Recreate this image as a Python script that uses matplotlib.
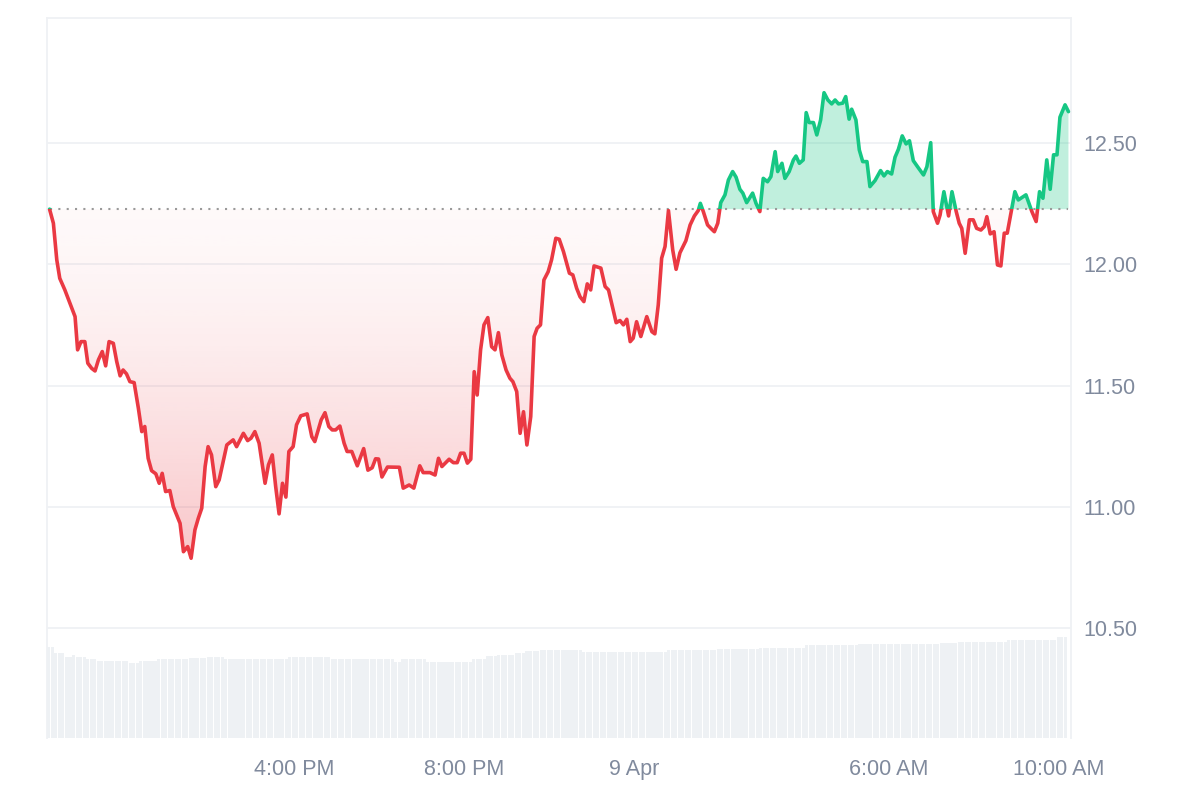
import numpy as np
import matplotlib
matplotlib.use("Agg")
import matplotlib.pyplot as plt
from matplotlib.patches import Rectangle
from matplotlib.path import Path

# ---------------- data (hours relative to 9 Apr 00:00) ----------------
hours = [
    -13.75, -13.66, -13.58, -13.51, -13.39, -13.27, -13.15, -13.09, -13.01, -12.92,
    -12.85, -12.76, -12.68, -12.60, -12.51, -12.43, -12.35, -12.25, -12.17, -12.09,
    -12.02, -11.94, -11.86, -11.76, -11.66, -11.58, -11.51, -11.43, -11.35, -11.25,
    -11.17, -11.10, -11.02, -10.92, -10.84, -10.68, -10.60, -10.50, -10.42, -10.33,
    -10.25, -10.17, -10.09, -10.02, -9.94, -9.84, -9.76,
    -9.58, -9.43, -9.35, -9.19, -9.09, -9.01, -8.92, -8.82, -8.68, -8.60,
    -8.51, -8.43, -8.35, -8.27, -8.19, -8.12, -8.02, -7.94, -7.84, -7.69,
    -7.58, -7.51, -7.36, -7.27, -7.18, -7.10, -7.02, -6.92, -6.82, -6.75,
    -6.64, -6.51, -6.36, -6.26, -6.16, -6.08, -6.01, -5.93, -5.80, -5.52,
    -5.43, -5.29, -5.18, -5.04, -4.96, -4.80, -4.68, -4.60, -4.52, -4.35,
    -4.25, -4.16, -4.08, -4.00, -3.92, -3.84, -3.76, -3.69, -3.61, -3.53,
    -3.44, -3.35, -3.27, -3.19, -3.11, -3.01, -2.92, -2.85, -2.76, -2.68,
    -2.60, -2.52, -2.43, -2.35, -2.28, -2.20, -2.12, -2.02, -1.94, -1.84,
    -1.76, -1.66, -1.52, -1.44, -1.35, -1.27, -1.18, -1.10, -1.02, -0.94,
    -0.78, -0.68, -0.60, -0.42, -0.33, -0.25, -0.17, -0.09, -0.02, 0.06,
    0.16, 0.30, 0.42, 0.49, 0.57, 0.65, 0.73, 0.81, 0.91, 0.99,
    1.08, 1.22, 1.32, 1.42, 1.51, 1.56, 1.63, 1.73, 1.83, 1.89,
    1.97, 2.04, 2.14, 2.22, 2.32, 2.40, 2.49, 2.56, 2.65, 2.79,
    2.87, 2.96, 3.04, 3.14, 3.22, 3.32, 3.38, 3.48, 3.55, 3.65,
    3.75, 3.81, 3.89, 3.98, 4.05, 4.12, 4.22, 4.30, 4.39, 4.47,
    4.56, 4.65, 4.73, 4.81, 4.91, 4.98, 5.06, 5.12, 5.22, 5.30,
    5.38, 5.48, 5.55, 5.67, 5.80, 5.88, 5.96, 6.06, 6.14, 6.22,
    6.31, 6.40, 6.48, 6.57, 6.67, 6.81, 6.89, 6.98, 7.04, 7.14,
    7.20, 7.29, 7.40, 7.48, 7.58, 7.65, 7.71, 7.79, 7.89, 7.98,
    8.06, 8.16, 8.24, 8.30, 8.38, 8.47, 8.55, 8.63, 8.71, 8.78,
    8.89, 8.96, 9.04, 9.22, 9.36, 9.46, 9.54, 9.62, 9.71, 9.79,
    9.87, 9.95, 10.02, 10.14, 10.22,
]

prices = [
    12.227, 12.169, 12.018, 11.942, 11.894, 11.839, 11.784, 11.647, 11.681, 11.681,
    11.592, 11.571, 11.560, 11.606, 11.640, 11.581, 11.681, 11.674, 11.599, 11.540,
    11.564, 11.548, 11.516, 11.512, 11.406, 11.310, 11.331, 11.200, 11.149, 11.136,
    11.097, 11.138, 11.063, 11.067, 11.001, 10.932, 10.815, 10.836, 10.788, 10.905,
    10.953, 10.994, 11.166, 11.248, 11.214, 11.083, 11.111,
    11.255, 11.276, 11.248, 11.303, 11.273, 11.283, 11.310, 11.262, 11.097, 11.173,
    11.214, 11.083, 10.971, 11.097, 11.040, 11.228, 11.248, 11.338, 11.375, 11.383,
    11.289, 11.269, 11.358, 11.388, 11.331, 11.317, 11.317, 11.333, 11.262, 11.228,
    11.228, 11.169, 11.240, 11.151, 11.161, 11.198, 11.197, 11.123, 11.164, 11.163,
    11.077, 11.090, 11.077, 11.169, 11.141, 11.141, 11.131, 11.200, 11.166, 11.196,
    11.182, 11.182, 11.221, 11.221, 11.180, 11.196, 11.557, 11.461, 11.647, 11.750,
    11.780, 11.660, 11.647, 11.718, 11.626, 11.564, 11.530, 11.516, 11.475, 11.303,
    11.392, 11.255, 11.372, 11.702, 11.736, 11.750, 11.935, 11.969, 12.018, 12.107,
    12.103, 12.052, 11.963, 11.956, 11.901, 11.866, 11.846, 11.919, 11.894, 11.993,
    11.984, 11.908, 11.894, 11.759, 11.768, 11.750, 11.773, 11.681, 11.695, 11.763,
    11.702, 11.784, 11.722, 11.713, 11.832, 12.025, 12.073, 12.221, 12.059, 11.979,
    12.047, 12.097, 12.162, 12.199, 12.221, 12.251, 12.217, 12.162, 12.144, 12.134,
    12.169, 12.254, 12.286, 12.347, 12.382, 12.359, 12.309, 12.293, 12.254, 12.293,
    12.251, 12.217, 12.354, 12.340, 12.361, 12.464, 12.382, 12.416, 12.354, 12.382,
    12.430, 12.446, 12.416, 12.430, 12.625, 12.584, 12.584, 12.533, 12.595, 12.707,
    12.677, 12.661, 12.677, 12.661, 12.664, 12.691, 12.598, 12.639, 12.595, 12.471,
    12.423, 12.423, 12.320, 12.345, 12.386, 12.364, 12.382, 12.372, 12.441, 12.474,
    12.529, 12.496, 12.509, 12.427, 12.402, 12.368, 12.402, 12.501, 12.217, 12.169,
    12.203, 12.299, 12.199, 12.299, 12.217, 12.169, 12.148, 12.045, 12.183, 12.183,
    12.148, 12.141, 12.155, 12.196, 12.125, 12.134, 11.997, 11.993, 12.128, 12.128,
    12.231, 12.299, 12.265, 12.286, 12.217, 12.176, 12.299, 12.272, 12.430, 12.309,
    12.451, 12.451, 12.606, 12.657, 12.629,
]

# 5-minute volume bars (arbitrary units), first bar starts at vol_start
vol_start = -13.81
vol_step_h = 5 / 60
volume = [
    91, 91, 85, 85, 85, 81, 81, 83, 81, 81,
    81, 79, 79, 79, 77, 77, 77, 77, 77, 77,
    77, 77, 77, 75, 75, 75, 77, 77, 77, 77,
    77, 79, 79, 79, 79, 79, 79, 79, 79, 79,
    80, 80, 80, 80, 80, 81, 81, 81, 81, 81,
    79, 79, 79, 79, 79, 79, 79, 79, 79, 79,
    79, 79, 79, 79, 79, 79, 79, 79, 81, 81,
    81, 81, 81, 81, 81, 81, 81, 81, 81, 81,
    79, 79, 79, 79, 79, 79, 79, 79, 79, 79,
    79, 79, 79, 79, 79, 79, 79, 79, 76, 76,
    79, 79, 79, 79, 79, 79, 79, 76, 76, 76,
    76, 76, 76, 76, 76, 76, 76, 76, 76, 76,
    79, 79, 79, 79, 82, 82, 82, 83, 83, 83,
    83, 83, 85, 85, 85, 87, 87, 87, 87, 88,
    88, 88, 88, 88, 88, 88, 88, 88, 88, 88,
    88, 86, 86, 86, 86, 86, 86, 86, 86, 86,
    86, 86, 86, 86, 86, 86, 86, 86, 86, 86,
    86, 86, 86, 86, 86, 88, 88, 88, 88, 88,
    88, 88, 88, 88, 88, 88, 88, 88, 88, 89,
    89, 89, 89, 89, 89, 89, 89, 89, 89, 89,
    89, 90, 90, 90, 90, 90, 90, 90, 90, 90,
    90, 90, 90, 90, 93, 93, 93, 93, 93, 93,
    93, 93, 93, 93, 93, 93, 93, 93, 93, 94,
    94, 94, 94, 94, 94, 94, 94, 94, 94, 94,
    94, 94, 94, 94, 94, 94, 94, 94, 94, 94,
    94, 94, 95, 95, 95, 95, 95, 96, 96, 96,
    96, 96, 96, 96, 96, 96, 96, 96, 96, 96,
    96, 98, 98, 98, 98, 98, 98, 98, 98, 98,
    98, 98, 98, 98, 98, 101, 101, 101,
]

y_ticks = [10.5, 11.0, 11.5, 12.0, 12.5]
x_ticks = [-8, -4, 0, 6, 10]
x_labels = ["4:00 PM", "8:00 PM", "9 Apr", "6:00 AM", "10:00 AM"]

# ---------------- style ----------------
RED = "#ea3943"
GREEN = "#16c784"
LABEL = "#808a9d"
GRID = "#eff1f4"
plt.rcParams['font.family'] = ['Liberation Sans', 'DejaVu Sans']

h = np.array(hours)
p = np.array(prices)
base = p[0]
xlim = (-13.81, 10.28)
ylim = (10.047, 13.015)

fig = plt.figure(figsize=(12, 8), dpi=100)
rect = [47 / 1200, 62 / 800, 1024 / 1200, 720 / 800]

# volume axes (behind)
axv = fig.add_axes(rect, zorder=0)
vt = vol_start + vol_step_h * (np.arange(len(volume)) + 0.5)
axv.bar(vt, volume, width=vol_step_h * 0.88, color="#eef1f4", linewidth=0)
axv.set_xlim(*xlim)
axv.set_ylim(0, max(volume) * 720 / 101)
axv.axis("off")

ax = fig.add_axes(rect, zorder=1)
ax.patch.set_visible(False)

# grid
for yv in y_ticks:
    ax.axhline(yv, color=GRID, lw=1.3, zorder=0.5)

# green fill
ax.fill_between(h, p, base, where=p >= base, interpolate=True,
                color=GREEN, alpha=0.27, lw=0, zorder=1)

# red gradient fill
poly = ax.fill_between(h, p, base, where=p <= base, interpolate=True,
                       facecolor="none", lw=0, zorder=1)
cpath = Path.make_compound_path(*poly.get_paths())
n = 256
frac = np.linspace(1, 0, n)  # row 0 = bottom (min price)
alpha = 0.03 + 0.26 * frac ** 1.5
grad = np.zeros((n, 1, 4))
grad[..., 0] = 234 / 255
grad[..., 1] = 57 / 255
grad[..., 2] = 67 / 255
grad[:, 0, 3] = alpha
im = ax.imshow(grad, extent=[h[0], h[-1], p.min(), base], aspect="auto",
               origin="lower", zorder=1, interpolation="bilinear")
im.set_clip_path(cpath, ax.transData)

# baseline
ax.plot([h[0], h[-1]], [base, base], color="#9a9a9a", lw=1.5,
        ls=(0, (1, 3)), zorder=3)

# price line: red below baseline, green above
LW = 2.6
lr, = ax.plot(h, p, color=RED, lw=LW, zorder=4, solid_joinstyle="round",
              solid_capstyle="round")
lr.set_clip_path(Rectangle((-30, 0), 60, base, transform=ax.transData))
lg, = ax.plot(h, p, color=GREEN, lw=LW, zorder=4, solid_joinstyle="round",
              solid_capstyle="round")
lg.set_clip_path(Rectangle((-30, base), 60, 30, transform=ax.transData))

ax.set_xlim(*xlim)
ax.set_ylim(*ylim)

ax.yaxis.tick_right()
ax.set_yticks(y_ticks)
ax.set_yticklabels([f"{v:.2f}" for v in y_ticks])
ax.set_xticks(x_ticks)
ax.set_xticklabels(x_labels)
ax.tick_params(axis="y", length=0, pad=9, labelsize=15.5, labelcolor=LABEL)
ax.tick_params(axis="x", length=0, pad=15, labelsize=15.5, labelcolor=LABEL)

for side in ["left", "right", "top"]:
    ax.spines[side].set_color(GRID)
    ax.spines[side].set_linewidth(1.3)
ax.spines["bottom"].set_visible(False)

fig.savefig("out.png", dpi=100, facecolor="white")
